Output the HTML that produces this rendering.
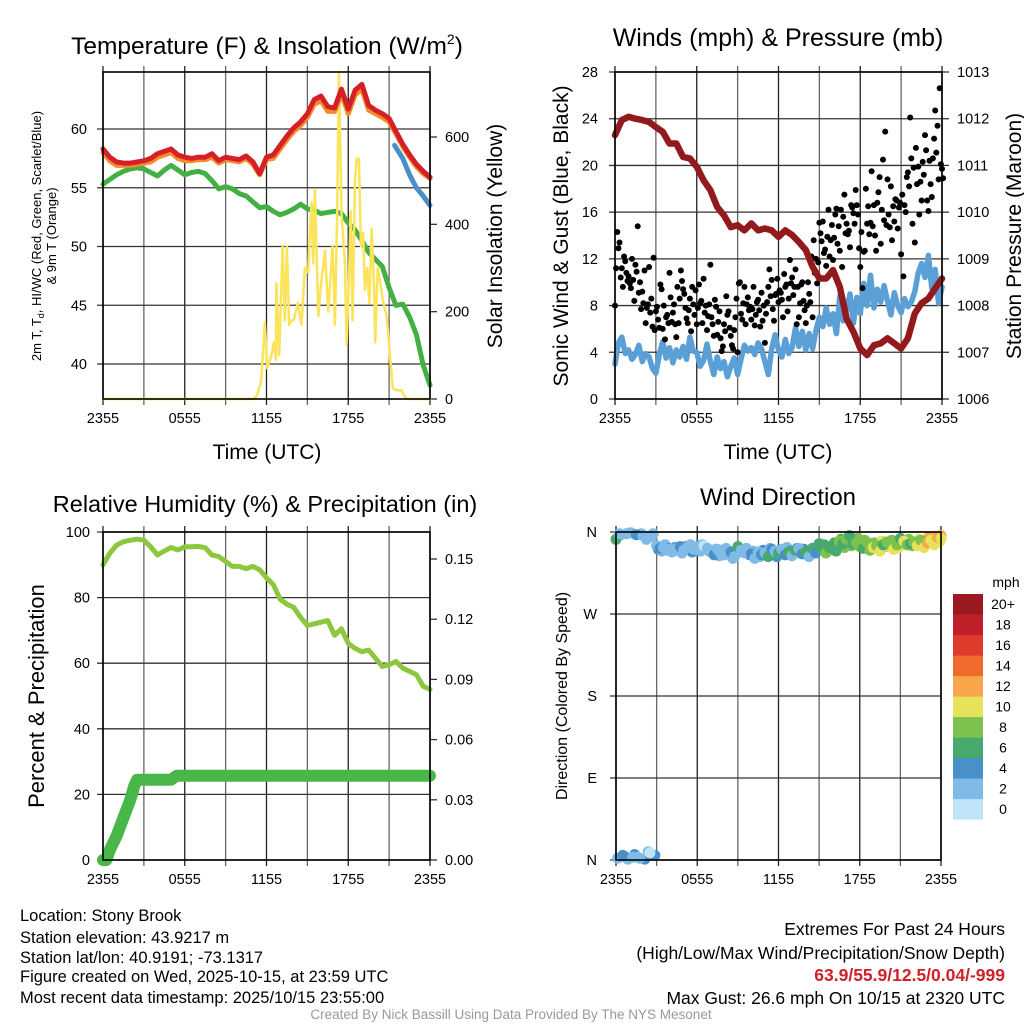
<!DOCTYPE html>
<html><head><meta charset="utf-8"><style>
html,body{margin:0;padding:0;background:#fff;}
svg{display:block;font-family:"Liberation Sans",Arial,sans-serif;}
</style></head><body>
<svg id="fig" width="1024" height="1024" viewBox="0 0 1024 1024" xmlns="http://www.w3.org/2000/svg">
<rect width="1024" height="1024" fill="#fff"/>
<!-- Titles -->
<text x="267" y="54" font-size="24.5" text-anchor="middle">Temperature (F) &amp; Insolation (W/m<tspan dy="-10" font-size="14">2</tspan><tspan dy="10">)</tspan></text>
<text x="778" y="46" font-size="25" text-anchor="middle">Winds (mph) &amp; Pressure (mb)</text>
<text x="265" y="512" font-size="23.5" text-anchor="middle">Relative Humidity (%) &amp; Precipitation (in)</text>
<text x="778" y="505" font-size="24" text-anchor="middle">Wind Direction</text>
<!-- Axis titles -->
<text transform="translate(41,236) rotate(-90)" font-size="13" text-anchor="middle">2m T, T<tspan font-size="9" dy="3">d</tspan><tspan dy="-3">, HI/WC (Red, Green, Scarlet/Blue)</tspan></text>
<text transform="translate(56,236) rotate(-90)" font-size="13" text-anchor="middle">&amp; 9m T (Orange)</text>
<text transform="translate(502,236) rotate(-90)" font-size="21" text-anchor="middle">Solar Insolation (Yellow)</text>
<text x="267" y="459" font-size="21" text-anchor="middle">Time (UTC)</text>
<text x="778" y="459" font-size="21" text-anchor="middle">Time (UTC)</text>
<text transform="translate(568,236) rotate(-90)" font-size="21" text-anchor="middle">Sonic Wind &amp; Gust (Blue, Black)</text>
<text transform="translate(1021,236) rotate(-90)" font-size="21" text-anchor="middle">Station Pressure (Maroon)</text>
<text transform="translate(44,696) rotate(-90)" font-size="22" text-anchor="middle">Percent &amp; Precipitation</text>
<text transform="translate(567,696) rotate(-90)" font-size="16" text-anchor="middle">Direction (Colored By Speed)</text>
<!-- Bottom text -->
<g font-size="16.5">
<text x="20" y="921">Location: Stony Brook</text>
<text x="20" y="943">Station elevation: 43.9217 m</text>
<text x="20" y="963">Station lat/lon: 40.9191; -73.1317</text>
<text x="20" y="982">Figure created on Wed, 2025-10-15, at 23:59 UTC</text>
<text x="20" y="1003">Most recent data timestamp: 2025/10/15 23:55:00</text>
</g>
<g font-size="17.5" text-anchor="end">
<text x="1005" y="935">Extremes For Past 24 Hours</text>
<text x="1005" y="959">(High/Low/Max Wind/Precipitation/Snow Depth)</text>
<text x="1005" y="981" fill="#d0202a" font-weight="bold">63.9/55.9/12.5/0.04/-999</text>
<text x="1005" y="1004">Max Gust: 26.6 mph On 10/15 at 2320 UTC</text>
</g>
<text x="511" y="1019" font-size="13.5" fill="#999" text-anchor="middle">Created By Nick Bassill Using Data Provided By The NYS Mesonet</text>
</svg>
<script>
// ===== Data (hour 0 = 2355 UTC previous day) =====
const halfHours = [0,0.5,1,1.5,2,2.5,3,3.5,4,4.5,5,5.5,6,6.5,7,7.5,8,8.5,9,9.5,10,10.5,11,11.5,12,12.5,13,13.5,14,14.5,15,15.5,16,16.5,17,17.5,18,18.5,19,19.5,20,20.5,21,21.5,22,22.5,23,23.5,24];
const temp2m = [58.3,57.6,57.2,57.1,57.1,57.2,57.3,57.5,57.9,58.1,58.3,57.8,57.6,57.5,57.6,57.6,57.9,57.3,57.6,57.5,57.4,57.7,57.2,56.2,57.6,57.8,58.6,59.4,60.1,60.6,61.3,62.5,62.8,61.9,61.8,63.4,61.7,63.3,63.8,62.0,61.6,61.3,60.9,59.8,58.7,57.8,57.0,56.4,55.9];
const temp9m = [58.0,57.3,56.9,56.9,56.9,57.0,57.1,57.2,57.6,57.8,58.0,57.5,57.3,57.3,57.4,57.4,57.6,57.1,57.4,57.3,57.2,57.5,57.0,56.1,57.4,57.5,58.3,59.1,59.8,60.3,61.0,62.1,62.4,61.5,61.5,63.0,61.3,62.9,63.4,61.6,61.3,61.0,60.6,59.6,58.5,57.6,56.8,56.2,55.8];
const dewpoint = [55.3,55.7,56.1,56.4,56.6,56.7,56.6,56.3,56.0,56.5,56.9,56.5,56.1,56.3,56.4,56.2,55.6,54.9,55.1,54.9,54.5,54.3,53.8,53.3,53.4,53.0,52.7,52.9,53.2,53.6,53.2,53.1,52.8,52.9,53.0,52.8,52.0,51.4,50.5,49.5,48.9,48.3,46.5,45.0,45.1,44.0,42.5,39.9,38.2];
const chillHours = [21.4,22,22.5,23,23.5,24];
const windChill = [58.6,57.5,56.1,55.0,54.3,53.5];
const sunHours = [0,11.0,11.3,11.6,11.88,12.05,12.37,12.54,12.69,12.73,12.93,13.18,13.35,13.5,13.66,13.84,14.0,14.3,14.57,14.82,15.06,15.3,15.43,15.55,15.8,15.99,16.29,16.53,16.85,17.02,17.19,17.32,17.51,17.76,17.88,18.05,18.17,18.32,18.49,18.61,18.78,18.93,19.1,19.22,19.4,19.55,19.72,19.89,19.98,20.16,20.33,20.57,20.82,21.06,21.26,21.55,21.92,22.16,22.4,24];
const sunValues = [0,0,8,40,175,70,100,130,90,265,100,350,180,350,170,180,180,220,170,300,290,450,310,480,190,260,340,200,350,170,430,750,420,310,125,270,430,180,500,550,550,350,380,250,300,220,390,260,130,300,270,220,190,100,25,20,20,5,0,0];
const pressure = [1011.65,1011.97,1012.04,1012.0,1011.97,1011.93,1011.82,1011.72,1011.47,1011.47,1011.18,1011.15,1010.97,1010.68,1010.47,1010.11,1009.93,1009.68,1009.72,1009.61,1009.76,1009.61,1009.65,1009.61,1009.47,1009.61,1009.51,1009.36,1009.19,1008.83,1008.58,1008.58,1008.76,1008.4,1007.72,1007.44,1007.08,1006.94,1007.15,1007.19,1007.3,1007.19,1007.08,1007.3,1007.83,1008.05,1008.15,1008.37,1008.58];
const windHours = [0,0.25,0.5,0.75,1,1.25,1.5,1.75,2,2.25,2.5,2.75,3,3.25,3.5,3.75,4,4.25,4.5,4.75,5,5.25,5.5,5.75,6,6.25,6.5,6.75,7,7.25,7.5,7.75,8,8.25,8.5,8.75,9,9.25,9.5,9.75,10,10.25,10.5,10.75,11,11.25,11.5,11.75,12,12.25,12.5,12.75,13,13.25,13.5,13.75,14,14.25,14.5,14.75,15,15.25,15.5,15.75,16,16.25,16.5,16.75,17,17.25,17.5,17.75,18,18.25,18.5,18.75,19,19.25,19.5,19.75,20,20.25,20.5,20.75,21,21.25,21.5,21.75,22,22.25,22.5,22.75,23,23.25,23.5,23.75,24];
const sonicWind = [3.0,4.8,5.3,3.9,4.2,3.4,3.8,4.6,3.2,3.9,3.6,2.6,2.2,3.8,4.9,3.5,4.4,3.1,4.2,3.6,4.5,3.4,5.3,4.1,4.0,2.8,3.3,4.7,3.2,2.1,3.6,2.6,3.2,1.9,2.8,3.5,2.1,3.4,4.6,4.1,4.4,3.8,4.8,4.3,3.2,2.1,4.3,5.5,4.2,3.6,5.1,3.9,4.4,6.1,4.5,5.8,4.2,5.6,4.3,5.9,7.0,6.2,7.8,6.4,7.3,5.6,8.8,6.7,7.6,9.0,6.5,8.7,7.3,9.9,8.0,10.6,7.8,9.4,8.3,9.7,8.4,7.2,9.1,8.0,7.4,8.6,7.9,8.3,9.2,10.8,11.6,10.4,12.3,9.5,11.1,8.2,9.6];
const gusts = [8.0,14.3,13.4,11.2,12.2,10.8, 10.5,9.5,10.2,11.5,14.8,10.0, 9.2,11.0,7.8,11.3,8.6,12.1, 7.5,6.8,9.8,6.0,5.1,7.2, 10.8,6.6,8.1,5.3,6.5,11.0, 9.4,7.8,6.5,8.6,9.6,7.2, 6.4,9.8,8.4,10.3,8.0,7.1, 11.5,6.4,8.5,5.5,7.5,4.1, 6.4,8.8,7.5,5.4,4.3,7.0, 4.0,10.0,6.8,9.6,8.1,7.6, 6.8,9.6,7.2,8.5,6.2,6.7, 4.8,8.3,11.1,10.2,6.7,9.0, 8.3,9.1,7.0,9.6,7.5,11.9, 10.4,9.6,6.4,7.0,9.8,8.4, 6.5,10.0,8.3,7.0,10.8,9.9, 15.1,13.5,12.5,11.4,16.2,13.6, 11.9,15.8,13.3,12.7,11.3,17.5, 15.0,14.4,16.6,15.9,17.9,15.8, 11.3,9.5,12.7,15.0,14.1,19.5, 16.6,12.7,17.7,13.3,20.5,22.9, 18.8,14.7,13.6,15.2,17.0,16.4, 12.4,10.5,16.0,19.4,24.1,15.0, 13.4,18.4,15.8,17.0,19.2,21.3, 16.1,18.4,20.6,24.7,23.4,26.6, 19.7];
const gusts2 = [11.2,12.9,10.4,9.6,11.8,10.1, 9.9,12.0,8.4,10.9,9.1,7.7, 8.2,6.5,8.1,7.4,6.2,5.9, 7.9,6.1,9.4,8.0,7.0,6.5, 8.7,7.4,6.4,9.6,8.6,10.1, 9.0,6.9,7.6,5.8,8.1,9.3, 7.8,8.2,6.5,7.4,5.9,8.1, 7.0,5.4,7.9,6.6,5.2,4.5, 5.8,7.2,6.1,4.6,5.9,8.6, 9.9,7.3,8.2,6.4,8.7,7.9, 7.7,6.3,8.3,7.6,9.1,8.0, 7.3,9.6,8.8,7.7,8.9,10.3, 9.3,8.5,10.7,9.8,8.6,9.9, 8.9,11.1,9.6,8.2,10.0,7.6, 8.0,9.0,12.2,13.6,12.0,11.7, 14.2,15.2,12.8,13.9,12.2,14.9, 13.8,16.3,14.8,16.2,15.6,14.2, 14.1,13.0,16.4,15.0,16.6,12.9, 14.3,12.6,18.0,16.5,15.1,14.8, 14.0,16.8,19.0,16.2,15.3,14.9, 15.8,18.2,16.5,17.1,14.6,16.8, 17.5,16.6,19.0,18.2,20.6,19.8, 21.5,19.9,18.6,20.3,22.6,17.0, 20.4,17.3,22.3,21.1,18.8,20.1, 18.9];
const humidity = [90,93.5,96,97,97.5,97.8,97.5,95.5,93,94.2,95.3,94.5,95.5,95.5,95.6,95.2,93,92.5,91,89.5,89.5,88.8,89.5,88.5,86,84,79.5,78,77,74,71.5,72,72.5,73,68.5,70.5,66,64.5,63.5,64,61.5,59,59.5,60.5,58.5,57.5,56.5,53,52];
const precipHours = [0,0.25,0.5,1.0,1.5,2.0,2.3,2.5,5.0,5.4,24];
const precipValues = [0,0,0.005,0.012,0.021,0.030,0.037,0.040,0.040,0.042,0.042];
const direction = [352,358,5,358, 359,3,357,2, 356,352,8,358, 345,342,343,340, 341,339,342,344, 340,343,346,341, 344,339,345,342, 338,335,341,336, 335,340,338,333, 344,340,337,339, 336,331,338,335, 337,333,341,339, 337,341,335,338, 334,340,342,336, 338,333,342,337, 347,341,337,343, 345,339,350,347, 352,356,347,348, 344,342,349,340, 343,345,339,346, 349,346,341,346, 353,350,346,347, 349,345,351,343, 348,351,346,354, 353];
const dirSpeed = [6,3,4,2, 3,2,4,3, 2,3,1.5,3, 3,4,3.5,2.5, 3,3.5,2,4, 3,2.5,3.5,3, 2,3,1.5,3.5, 3,4,2.5,3, 3.5,2,4,3, 6,3,2,3.5, 4,3,2.5,4, 3.5,6,4,3, 7,3,4,6, 3.5,6,3,4, 6,3.5,6.5,4, 7,6.5,8,6, 7.5,6.5,8,7, 8,6,7.5,8.5, 8,7,9,8, 10,8,10.5,7.5, 8,9,10,8, 7,10,8.5,7.5, 9,10.5,8,10, 12.5,11,10,12, 11];
const direction2 = [2,357,4,1, 359,6,3,358, 1,9,355,5, 341,339,346,342, 338,343,340,337, 344,341,338,343, 340,346,343,339, 337,341,334,339, 342,336,331,337, 341,338,342,335, 339,337,333,340, 338,342,336,333, 340,336,343,339, 338,342,337,341, 335,340,338,344, 342,346,339,344, 348,344,352,343, 350,345,349,353, 346,351,344,347, 348,342,350,344, 345,351,347,343, 350,348,352,345, 347,352,349,351, 355,350,353,349, 356];
const dirSpeed2 = [3,2,4,3, 2,4,3,2, 5,3,2,4, 4,3,2.5,4, 3.5,4,3,2, 4,3,4,2.5, 3.5,2,4,3, 4,3,3.5,4, 2.5,4,3,4, 4,5,3,4, 3,4.5,3.5,4, 4,3,5,4, 4,5,3,4, 5,4,6,4, 5,6,4,7, 6,7,5,8, 7,8,6,9, 7,8.5,9,8, 9,8,10,7.5, 9,8,11,9, 10,8.5,9,11, 9,10,8,9.5, 10,11,9,12, 13,10.5,12,11, 12];
const speedLabels = ["0","2","4","6","8","10","12","14","16","18","20+"];
const speedColors = ["#bfe3f7","#7fbbe6","#4a90c8","#48a96c","#7cc24e","#e6e25a","#f7a64a","#f06a2b","#e03a2c","#c0202a","#9b1a1f"];
const timeTickHours = [0,6,12,18,24];
const timeTickLabels = ["2355","0555","1155","1755","2355"];
const tempTicks = [40,45,50,55,60];
const sunTicks = [0,200,400,600];
const windTicks = [0,4,8,12,16,20,24,28];
const pressTicks = [1006,1007,1008,1009,1010,1011,1012,1013];
const rhTicks = [0,20,40,60,80,100];
const precipTicks = [0,0.03,0.06,0.09,0.12,0.15];
const precipTickLabels = ["0.00","0.03","0.06","0.09","0.12","0.15"];
const dirTicks = [0,90,180,270,360];
const dirTickLabels = ["N","E","S","W","N"];

// ===== Drawing =====
const NS = "http://www.w3.org/2000/svg";
const svg = document.getElementById("fig");
function mk(tag, parent){ const e = document.createElementNS(NS, tag); parent.appendChild(e); return e; }
function lin(d0,d1,r0,r1){ return v => r0 + (v-d0)/(d1-d0)*(r1-r0); }

function panel(name, x0,x1,y0,y1){
  const g = mk("g", svg);
  
  
  const bg = mk("rect", g);
  bg.setAttribute("x",x0); bg.setAttribute("y",y0); bg.setAttribute("width",x1-x0); bg.setAttribute("height",y1-y0); bg.setAttribute("fill","#fff");
  
  
  return g;
}
function vgrid(g, xs, x0, x1, y0, y1){
  for(let h=0; h<=24; h+=3){
    const x = xs(h);
    const l = mk("line", g);
    l.setAttribute("x1",x); l.setAttribute("x2",x); l.setAttribute("y1",y0-6); l.setAttribute("y2",y1+6);
    l.setAttribute("stroke", h%6===0 ? "#222" : "#666"); l.setAttribute("stroke-width","1.3");
    
    
  }
  timeTickHours.forEach((h,i)=>{
    const t = mk("text", g);
    t.setAttribute("x", xs(h)); t.setAttribute("y", y1+24); t.setAttribute("font-size","14.5"); t.setAttribute("text-anchor","middle");
    t.textContent = timeTickLabels[i];
    
    
  });
}
function hgrid(g, vals, ys, labels, x0, x1, side, lx){
  vals.forEach((v,i)=>{
    const y = ys(v);
    if(side==="left"){
      const l = mk("line", g);
      l.setAttribute("x1",x0-6); l.setAttribute("x2",x1); l.setAttribute("y1",y); l.setAttribute("y2",y);
      l.setAttribute("stroke","#333"); l.setAttribute("stroke-width","1.3");
      
      
    } else {
      const l = mk("line", g);
      l.setAttribute("x1",x1); l.setAttribute("x2",x1+7); l.setAttribute("y1",y); l.setAttribute("y2",y);
      l.setAttribute("stroke","#333"); l.setAttribute("stroke-width","1.3");
      
      
    }
    const t = mk("text", g);
    t.setAttribute("x", lx); t.setAttribute("y", y+5); t.setAttribute("font-size","14.5");
    t.setAttribute("text-anchor", side==="left" ? "end" : "start");
    t.textContent = labels ? labels[i] : String(v);
    
    
  });
}
function frame(g, x0,x1,y0,y1){
  const r = mk("rect", g);
  r.setAttribute("x",x0); r.setAttribute("y",y0); r.setAttribute("width",x1-x0); r.setAttribute("height",y1-y0);
  r.setAttribute("fill","none"); r.setAttribute("stroke","#000"); r.setAttribute("stroke-width","1.6");
  
  
}
function line(g, xsArr, ysArr, xs, ys, color, w, name){
  const p = mk("polyline", g);
  p.setAttribute("points", xsArr.map((h,i)=> xs(h).toFixed(1)+","+ys(ysArr[i]).toFixed(1)).join(" "));
  p.setAttribute("fill","none"); p.setAttribute("stroke",color); p.setAttribute("stroke-width",w);
  p.setAttribute("stroke-linejoin","round"); p.setAttribute("stroke-linecap","round");
  
  
  return p;
}

// Panel 1: temperature
{
  const x0=103,x1=430,y0=72,y1=399;
  const g = panel("temperature-panel", x0,x1,y0,y1);
  const xs = lin(0,24,x0,x1), ys = lin(60,40,129,364), ysun = lin(0,600,399,137);
  vgrid(g, xs, x0,x1,y0,y1);
  hgrid(g, tempTicks, ys, null, x0,x1,"left", x0-16);
  hgrid(g, sunTicks, ysun, null, x0,x1,"right", x1+15);
  line(g, halfHours, dewpoint, xs, ys, "#44b044", 5, "dewpoint-line");
  line(g, sunHours, sunValues, xs, ysun, "#fbe35a", 2.5, "insolation-line");
  line(g, halfHours, temp9m, xs, ys, "#f58a2b", 5, "temp-9m-line");
  line(g, halfHours, temp2m, xs, ys, "#d42026", 5, "temp-2m-line");
  line(g, chillHours, windChill, xs, ys, "#4a8fc8", 5, "wind-chill-line");
  frame(g, x0,x1,y0,y1);
}
// Panel 2: winds & pressure
{
  const x0=615,x1=942,y0=72,y1=399;
  const g = panel("winds-panel", x0,x1,y0,y1);
  const xs = lin(0,24,x0,x1), ys = lin(0,28,399,72), yp = lin(1006,1013,399,72);
  vgrid(g, xs, x0,x1,y0,y1);
  hgrid(g, windTicks, ys, null, x0,x1,"left", x0-17);
  hgrid(g, pressTicks, yp, null, x0,x1,"right", x1+15);
  line(g, windHours, sonicWind, xs, ys, "#5a9fd6", 5.5, "sonic-wind-line");
  [gusts, gusts2].forEach((arr, k)=>{
    arr.forEach((v,i)=>{
      const c = mk("circle", g);
      c.setAttribute("cx", xs(i/6 + k/12).toFixed(1)); c.setAttribute("cy", ys(v).toFixed(1)); c.setAttribute("r","3");
      c.setAttribute("fill","#000");
      
      
    });
  });
  line(g, halfHours, pressure, xs, yp, "#921a1c", 6.5, "pressure-line");
  frame(g, x0,x1,y0,y1);
}
// Panel 3: humidity & precip
{
  const x0=103,x1=430,y0=532,y1=860;
  const g = panel("humidity-panel", x0,x1,y0,y1);
  const xs = lin(0,24,x0,x1), ys = lin(0,100,860,532), ypr = lin(0,0.15,860,559);
  vgrid(g, xs, x0,x1,y0,y1);
  hgrid(g, rhTicks, ys, null, x0,x1,"left", x0-13);
  hgrid(g, precipTicks, ypr, precipTickLabels, x0,x1,"right", x1+15);
  line(g, halfHours, humidity, xs, ys, "#8dc63f", 5, "humidity-line");
  line(g, precipHours, precipValues, xs, ypr, "#49b649", 12, "precipitation-line");
  frame(g, x0,x1,y0,y1);
}
// Panel 4: wind direction
{
  const x0=616,x1=941,y0=532,y1=860;
  const g = panel("wind-direction-panel", x0,x1,y0,y1);
  const xs = lin(0,24,x0,x1), ys = lin(0,360,860,532);
  vgrid(g, xs, x0,x1,y0,y1);
  hgrid(g, dirTicks, ys, dirTickLabels, x0,x1,"left", x0-19);
  [[direction2, dirSpeed2, 0.125],[direction, dirSpeed, 0]].forEach(([dirs, spd, off])=>{
    dirs.forEach((d,i)=>{
      const c = mk("circle", g);
      const idx = Math.min(10, Math.floor(spd[i]/2));
      c.setAttribute("cx", xs(Math.min(24, i/4 + off)).toFixed(1)); c.setAttribute("cy", ys(d).toFixed(1)); c.setAttribute("r","5.5");
      c.setAttribute("fill", speedColors[idx]);
      
      
    });
  });
  frame(g, x0,x1,y0,y1);
  // colorbar
  const cb = mk("g", svg);
  
  
  const ttl = mk("text", cb);
  ttl.setAttribute("x","1006"); ttl.setAttribute("y","587"); ttl.setAttribute("font-size","14"); ttl.setAttribute("text-anchor","middle");
  ttl.textContent = "mph";
  
  
  speedLabels.forEach((lab,i)=>{
    const k = 10 - i;
    const y = 594 + k*20.5;
    const r = mk("rect", cb);
    r.setAttribute("x","953"); r.setAttribute("y",y); r.setAttribute("width","30"); r.setAttribute("height","20.6"); r.setAttribute("fill", speedColors[i]);
    
    
    const t = mk("text", cb);
    t.setAttribute("x","1003"); t.setAttribute("y", y+15); t.setAttribute("font-size","14"); t.setAttribute("text-anchor","middle");
    t.textContent = lab;
    
    
  });
}
</script>
</body></html>
